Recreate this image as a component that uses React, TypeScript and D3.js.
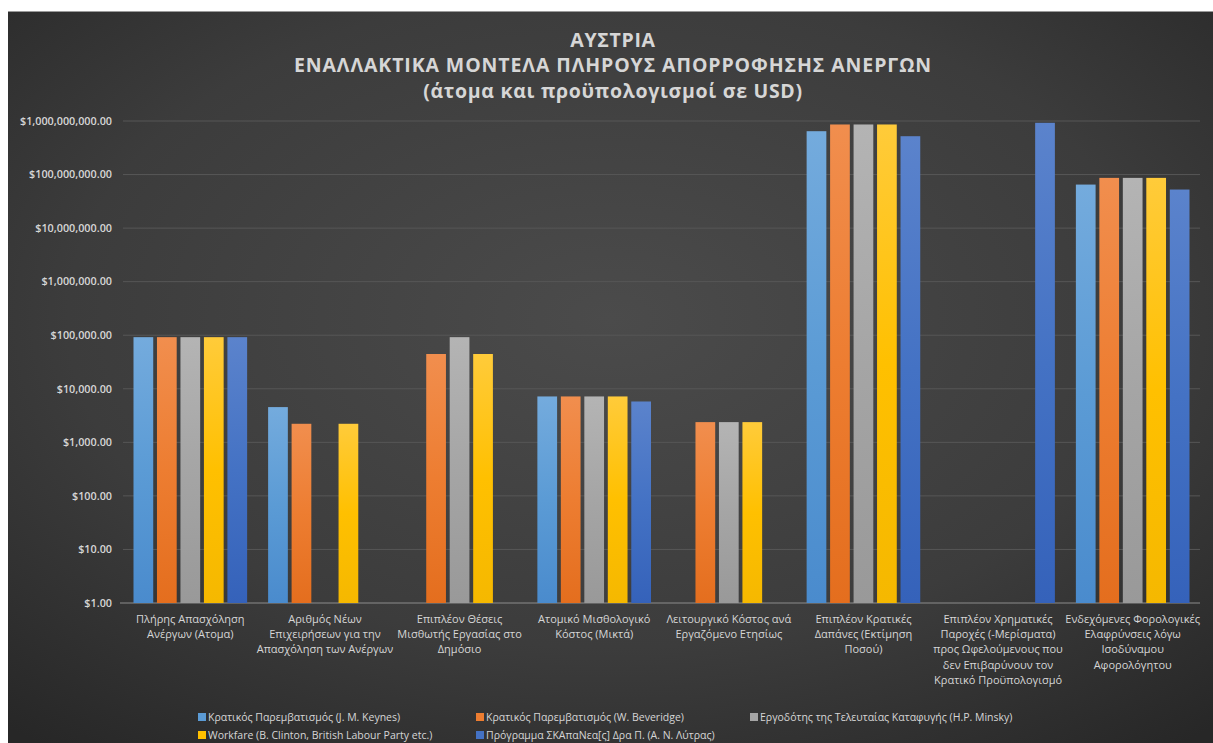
import React from "react";
import * as d3 from "d3";

const categories: string[][] = [
  ["Πλήρης Απασχόληση", "Ανέργων (Ατομα)"],
  ["Αριθμός Νέων", "Επιχειρήσεων για την", "Απασχόληση των Ανέργων"],
  ["Επιπλέον Θέσεις", "Μισθωτής Εργασίας στο", "Δημόσιο"],
  ["Ατομικό Μισθολογικό", "Κόστος (Μικτά)"],
  ["Λειτουργικό Κόστος ανά", "Εργαζόμενο Ετησίως"],
  ["Επιπλέον Κρατικές", "Δαπάνες (Εκτίμηση", "Ποσού)"],
  ["Επιπλέον Χρηματικές", "Παροχές (-Μερίσματα)", "προς Ωφελούμενους που", "δεν Επιβαρύνουν τον", "Κρατικό Προϋπολογισμό"],
  ["Ενδεχόμενες Φορολογικές", "Ελαφρύνσεις λόγω", "Ισοδύναμου", "Αφορολόγητου"],
];

const seriesNames = [
  "Κρατικός Παρεμβατισμός (J. M. Keynes)",
  "Κρατικός Παρεμβατισμός (W. Beveridge)",
  "Εργοδότης της Τελευταίας Καταφυγής (H.P. Minsky)",
  "Workfare (B. Clinton, British Labour Party etc.)",
  "Πρόγραμμα ΣΚΑπαΝεα[ς] Δρα Π. (Α. Ν. Λύτρας)",
];

const keynes = [92000, 4550, null, 7190, null, 645e6, null, 65e6];
const beveridge = [92000, 2220, 44600, 7190, 2385, 861e6, null, 86.7e6];
const minsky = [92000, null, 92000, 7190, 2385, 861e6, null, 86.7e6];
const workfare = [92000, 2220, 44600, 7190, 2385, 861e6, null, 86.7e6];
const lytras = [92000, null, null, 5790, null, 520e6, 925e6, 52.5e6];

const seriesValues: (number | null)[][] = [keynes, beveridge, minsky, workfare, lytras];

const yTicks = [1, 10, 100, 1e3, 1e4, 1e5, 1e6, 1e7, 1e8, 1e9];

const colors = ["#5B9BD5", "#ED7D31", "#A5A5A5", "#FFC000", "#4472C4"];
const lightColors = ["#74ABDD", "#F18E4E", "#B4B4B4", "#FFCB3A", "#5B83CC"];
const darkColors = ["#4A8BCD", "#E46E1E", "#999999", "#F5B800", "#3562BA"];

const titleLines = [
  "ΑΥΣΤΡΙΑ",
  "ΕΝΑΛΛΑΚΤΙΚΑ ΜΟΝΤΕΛΑ ΠΛΗΡΟΥΣ ΑΠΟΡΡΟΦΗΣΗΣ ΑΝΕΡΓΩΝ",
  "(άτομα και προϋπολογισμοί σε USD)",
];

const W = 1213;
const H = 743;
const plotLeft = 123;
const plotRight = 1200;
const plotTop = 121;
const plotBottom = 603;

export default function App() {
  const x0 = d3
    .scaleBand<number>()
    .domain(d3.range(categories.length))
    .range([plotLeft, plotRight])
    .padding(0);
  const inset = 10.5;
  const x1 = d3
    .scaleBand<number>()
    .domain(d3.range(seriesNames.length))
    .range([inset, x0.bandwidth() - inset])
    .paddingInner(0.16)
    .paddingOuter(0);
  const y = d3.scaleLog().domain([1, 1e9]).range([plotBottom, plotTop]);
  const fmt = (v: number) => "$" + d3.format(",.2f")(v);

  const font = "'Open Sans', 'Noto Sans', sans-serif";
  const txt = "#D6D6D6";

  const legendPos = [
    { x: 198, y: 717 },
    { x: 476, y: 717 },
    { x: 750, y: 717 },
    { x: 198, y: 735 },
    { x: 476, y: 735 },
  ];

  return (
    <svg
      width={W}
      height={H}
      style={{ position: "fixed", left: 0, top: 0, display: "block" }}
      fontFamily={font}
    >
      <defs>
        <radialGradient id="bg" cx="50%" cy="42%" r="75%">
          <stop offset="0%" stopColor="#4B4B4B" />
          <stop offset="60%" stopColor="#3C3C3C" />
          <stop offset="100%" stopColor="#272727" />
        </radialGradient>
        {colors.map((c, i) => (
          <linearGradient key={i} id={`g${i}`} x1="0" y1="0" x2="0" y2="1">
            <stop offset="0%" stopColor={lightColors[i]} />
            <stop offset="50%" stopColor={c} />
            <stop offset="100%" stopColor={darkColors[i]} />
          </linearGradient>
        ))}
      </defs>
      <rect x={0} y={0} width={W} height={H} fill="#FFFFFF" />
      <rect x={8} y={11} width={W - 8} height={H - 11} fill="url(#bg)" />
      <line x1={8} y1={11.5} x2={W} y2={11.5} stroke="#9A9A9A" strokeWidth={1} />

      {titleLines.map((t, i) => (
        <text
          key={i}
          x={613}
          y={[47, 72, 98][i]}
          textAnchor="middle"
          fill={txt}
          fontSize={19.5}
          fontWeight={700}
          letterSpacing={i === 1 ? 0.9 : 0.7}
        >
          {t}
        </text>
      ))}

      {yTicks.map((t) => (
        <g key={t}>
          <line
            x1={t === 1 ? plotLeft - 3 : plotLeft}
            x2={plotRight}
            y1={y(t)}
            y2={y(t)}
            stroke={t === 1 ? "#8C8C8C" : "#575757"}
            strokeWidth={1}
          />
          <text
            x={112}
            y={y(t)}
            dy="0.35em"
            textAnchor="end"
            fill={txt}
            fontSize={10.8}
            fontWeight={600}
          >
            {fmt(t)}
          </text>
        </g>
      ))}

      {seriesValues.map((vals, s) =>
        vals.map((v, c) =>
          v == null ? null : (
            <rect
              key={`${s}-${c}`}
              x={(x0(c) as number) + (x1(s) as number)}
              y={y(v)}
              width={x1.bandwidth()}
              height={plotBottom - y(v)}
              fill={`url(#g${s})`}
            />
          )
        )
      )}

      {categories.map((lines, c) => (
        <text
          key={c}
          x={(x0(c) as number) + x0.bandwidth() / 2}
          y={619}
          textAnchor="middle"
          fill={txt}
          fontSize={11}
        >
          {lines.map((l, i) => (
            <tspan key={i} x={(x0(c) as number) + x0.bandwidth() / 2} dy={i === 0 ? "0.35em" : 15.3}>
              {l}
            </tspan>
          ))}
        </text>
      ))}

      {seriesNames.map((n, i) => (
        <g key={i}>
          <rect x={legendPos[i].x} y={legendPos[i].y - 4} width={8} height={8} fill={colors[i]} />
          <text
            x={legendPos[i].x + 10}
            y={legendPos[i].y}
            dy="0.35em"
            fill={txt}
            fontSize={10.5}
          >
            {n}
          </text>
        </g>
      ))}
    </svg>
  );
}
